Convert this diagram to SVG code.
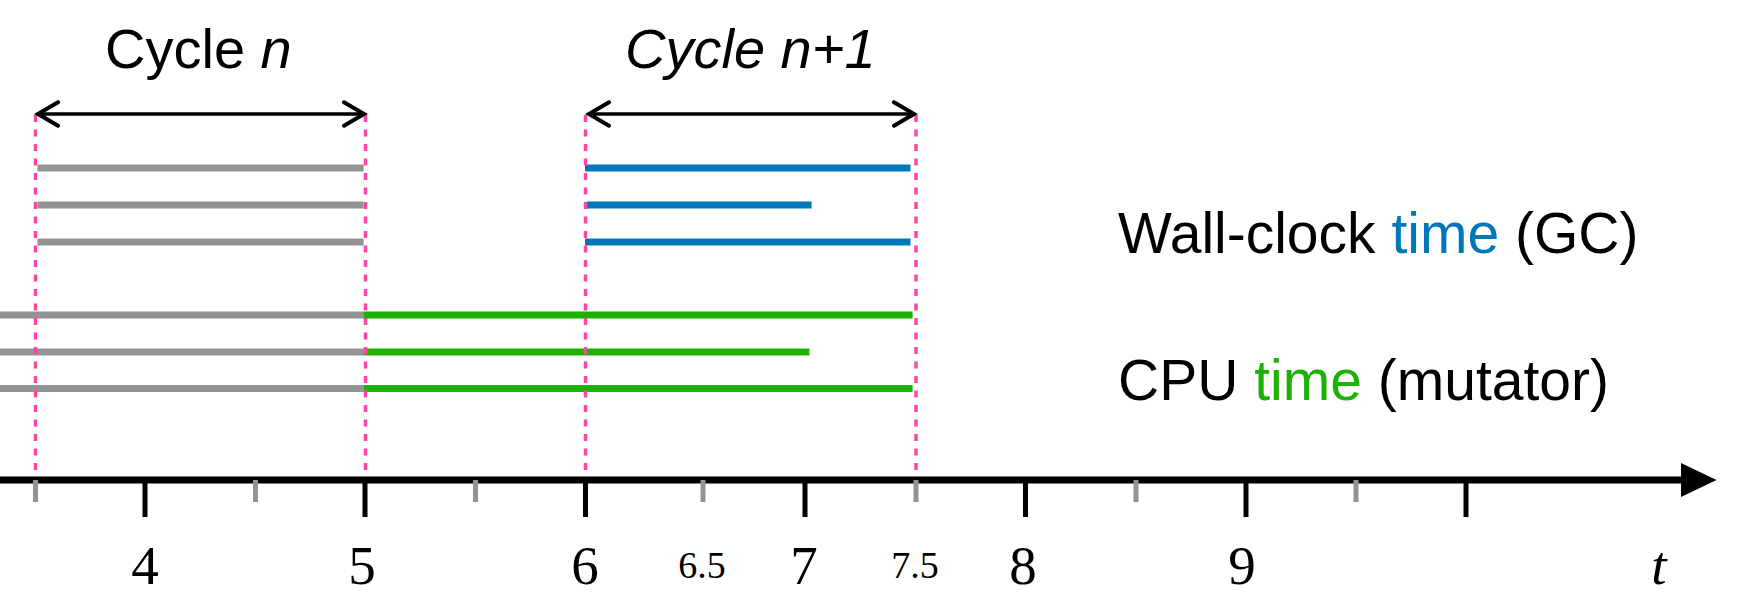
<svg xmlns="http://www.w3.org/2000/svg" width="1741" height="611" viewBox="0 0 1741 611">
<style>
.lbl{font-family:"Liberation Sans",Arial,sans-serif;font-size:57px;fill:#000}
.cyc{font-family:"Liberation Sans",Arial,sans-serif;font-size:56px;fill:#000}
.num{font-family:"Liberation Serif","Times New Roman",serif;font-size:55px;fill:#000;text-anchor:middle}
.sm{font-size:38px}
.bar{stroke-width:7;fill:none}
.gray{stroke:#939393}
.blue{stroke:#0077BB}
.green{stroke:#1DB100}
.pink{stroke:#FF45A5;stroke-width:3.5;stroke-dasharray:7 7.5;fill:none}
.major{stroke:#000;stroke-width:5}
.minor{stroke:#939393;stroke-width:5}
.span{stroke:#000;stroke-width:3.5;fill:none}
</style>
<defs>
<marker id="chev" markerUnits="userSpaceOnUse" viewBox="-24 -14 28 28" markerWidth="28" markerHeight="28" refX="0" refY="0" orient="auto-start-reverse">
<path d="M -20 -11.7 L 0 0 L -20 11.7" fill="none" stroke="#000" stroke-width="4" stroke-linecap="round" stroke-linejoin="miter"/>
</marker>
</defs>
<g id="bars-gc">
<line class="bar gray" x1="37.5" y1="168" x2="363.6" y2="168"/>
<line class="bar gray" x1="37.5" y1="205" x2="363.6" y2="205"/>
<line class="bar gray" x1="37.5" y1="242" x2="363.6" y2="242"/>
<line class="bar blue" x1="585" y1="168" x2="910.5" y2="168"/>
<line class="bar blue" x1="587" y1="205" x2="811.6" y2="205"/>
<line class="bar blue" x1="585" y1="242" x2="910.5" y2="242"/>
</g>
<g id="bars-cpu">
<line class="bar gray" x1="0" y1="315" x2="364" y2="315"/>
<line class="bar gray" x1="0" y1="352" x2="364" y2="352"/>
<line class="bar gray" x1="0" y1="388.5" x2="364" y2="388.5"/>
<line class="bar green" x1="364" y1="315" x2="912.6" y2="315"/>
<line class="bar green" x1="364" y1="352" x2="809.4" y2="352"/>
<line class="bar green" x1="364" y1="388.5" x2="912.6" y2="388.5"/>
</g>
<g id="guides">
<line class="pink" x1="35.5" y1="115" x2="35.5" y2="477"/>
<line class="pink" x1="365.5" y1="115" x2="365.5" y2="477"/>
<line class="pink" x1="585.5" y1="115" x2="585.5" y2="477"/>
<line class="pink" x1="916" y1="115" x2="916" y2="477"/>
</g>
<g id="connectors">
<line class="span" x1="38" y1="114" x2="364" y2="114" marker-start="url(#chev)" marker-end="url(#chev)"/>
<line class="span" x1="589" y1="114" x2="914" y2="114" marker-start="url(#chev)" marker-end="url(#chev)"/>
</g>
<g id="axis">
<line x1="0" y1="480" x2="1684" y2="480" stroke="#000" stroke-width="7"/>
<path d="M 1681 463 L 1716.5 480 L 1681 497 Z" fill="#000"/>
<line class="major" x1="145" y1="480" x2="145" y2="517"/>
<line class="major" x1="365" y1="480" x2="365" y2="517"/>
<line class="major" x1="585.5" y1="480" x2="585.5" y2="517"/>
<line class="major" x1="805" y1="480" x2="805" y2="517"/>
<line class="major" x1="1025.5" y1="480" x2="1025.5" y2="517"/>
<line class="major" x1="1246" y1="480" x2="1246" y2="517"/>
<line class="major" x1="1466" y1="480" x2="1466" y2="517"/>
<line class="minor" x1="35.5" y1="480" x2="35.5" y2="502"/>
<line class="minor" x1="255.5" y1="480" x2="255.5" y2="502"/>
<line class="minor" x1="475.5" y1="480" x2="475.5" y2="502"/>
<line class="minor" x1="703" y1="480" x2="703" y2="502"/>
<line class="minor" x1="916" y1="480" x2="916" y2="502"/>
<line class="minor" x1="1136" y1="480" x2="1136" y2="502"/>
<line class="minor" x1="1356" y1="480" x2="1356" y2="502"/>
</g>
<g id="tick-labels">
<text class="num" x="145" y="584">4</text>
<text class="num" x="362" y="584">5</text>
<text class="num" x="585" y="584">6</text>
<text class="num sm" x="702" y="578">6.5</text>
<text class="num" x="804" y="584">7</text>
<text class="num sm" x="915" y="578">7.5</text>
<text class="num" x="1023" y="584">8</text>
<text class="num" x="1242" y="584">9</text>
<text class="num" x="1659" y="584" font-style="italic">t</text>
</g>
<g id="cycle-n">
<text class="cyc" x="105" y="68">Cycle <tspan font-style="italic">n</tspan></text>
</g>
<g id="cycle-n1">
<text class="cyc" x="625" y="68" font-style="italic">Cycle n+1</text>
</g>
<g id="legend-wall">
<text class="lbl" x="1118" y="253">Wall-clock <tspan fill="#0077BB">time</tspan> (GC)</text>
</g>
<g id="legend-cpu">
<text class="lbl" x="1118" y="400">CPU <tspan fill="#1DB100">time</tspan> (mutator)</text>
</g>
</svg>
